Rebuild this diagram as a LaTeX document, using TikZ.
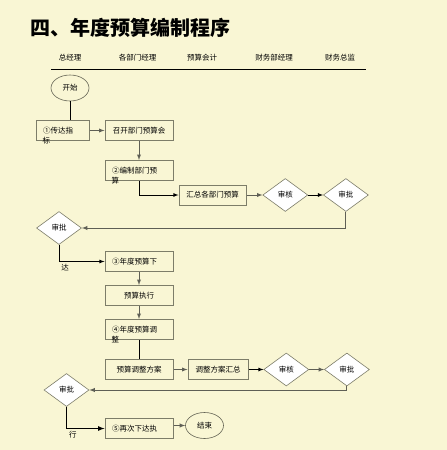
\documentclass[tikz,border=0pt]{standalone}
\usepackage{fontspec}
\setmainfont{Noto Sans CJK SC}
\usetikzlibrary{shapes.geometric, positioning, arrows}
\definecolor{paper}{RGB}{249,246,212}
\definecolor{rim}{RGB}{125,125,105}
\definecolor{wire}{RGB}{95,95,85}

\begin{document}
\begin{tikzpicture}[x=1pt, y=-1pt, >=latex, node distance=15pt,
	box/.style={draw=rim, line width=1pt, fill=paper, minimum width=68pt, minimum height=20pt,
		inner xsep=7pt, inner ysep=0pt, font=\fontsize{7.5}{9}\selectfont},
	leftbox/.style={box, minimum width=0pt, text width=#1, align=left},
	check/.style={diamond, draw=rim, fill=white, line width=0.6pt, minimum width=45pt,
		minimum height=33pt, inner sep=0pt, font=\fontsize{7.5}{9}\selectfont},
	term/.style={ellipse, draw=rim!80!black, line width=0.6pt, fill=paper, minimum width=38pt,
		minimum height=26pt, inner sep=0pt, font=\fontsize{7.5}{9}\selectfont},
	spill/.style={anchor=west, xshift=7pt, inner sep=0pt, font=\fontsize{7.5}{9}\selectfont},
	colhead/.style={font=\fontsize{7.5}{9}\selectfont},
	flow/.style={->, draw=wire, line width=0.9pt},
	flowdark/.style={->, draw=black, line width=0.8pt}]
	\fill[paper] (0,0) rectangle (447,450);
	\useasboundingbox (0,0) rectangle (447,450);
	\node[anchor=west, inner sep=0pt, font=\bfseries\fontsize{20}{24}\selectfont] (title) at (30,28) {四、年度预算编制程序};
	\node[colhead] (h1) at (70,58) {总经理};
	\node[colhead] (h2) at (137.5,58) {各部门经理};
	\node[colhead] (h3) at (202,58) {预算会计};
	\node[colhead] (h4) at (274,58) {财务部经理};
	\node[colhead] (h5) at (340,58) {财务总监};
	\draw[line width=0.8pt] (51,69.3) -- (366,69.3);
	\node[term] (start) at (70,88) {开始};
	\node[leftbox=39pt, label={[spill]south west:标}] (b1) at (62.5,130.5) {①传达指};
	\node[box, right=15pt of b1] (b2) {召开部门预算会};
	\node[leftbox=54pt, below=19pt of b2, label={[spill]south west:算}] (b3) {②编制部门预};
	\node[box, minimum width=67pt] (b4) at (212.5,195) {汇总各部门预算};
	\node[check, right=16pt of b4] (d1) {审核};
	\node[check, right=15pt of d1] (d2) {审批};
	\node[check] (d0) at (59,228) {审批};
	\node[leftbox=54pt, below=70pt of b3] (b5) {③年度预算下};
	\node[box, below=13pt of b5] (b6) {预算执行};
	\node[leftbox=54pt, below=13pt of b6, label={[spill]south west:整}] (b7) {④年度预算调};
	\node[box, below=19pt of b7] (b8) {预算调整方案};
	\node[box, minimum width=60pt, right=14pt of b8] (b9) {调整方案汇总};
	\node[check, right=15pt of b9] (d3) {审核};
	\node[check, right=15pt of d3] (d4) {审批};
	\node[check] (d5) at (66.5,390) {审批};
	\node[leftbox=54pt, below=38pt of b8] (b10) {⑤再次下达执};
	\node[term] (stop) at (204.5,425.5) {结束};
	\draw[flowdark, -] (start) -- (start |- b1.north);
	\draw[flow] (b1) -- (b2);
	\draw[flow] (b2) -- (b3);
	\draw[flowdark] (b3) |- (b4);
	\draw[flow] (b4) -- (d1);
	\draw[flowdark] (d1) -- (d2);
	\draw[flow] (d2) |- (d0);
	\draw[flowdark] (d0) |- node[below right, inner sep=2pt, font=\fontsize{7.5}{9}\selectfont] {达} (b5);
	\draw[flow] (b5) -- (b6);
	\draw[flow] (b6) -- (b7);
	\draw[flowdark, -] (b7) -- (b8);
	\draw[flow] (b8) -- (b9);
	\draw[flowdark] (b9) -- (d3);
	\draw[flow] (d3) -- (d4);
	\draw[flow] (d4) |- (d5);
	\draw[flowdark, line width=1.2pt] (d5) |- node[below right, inner sep=2pt, font=\fontsize{7.5}{9}\selectfont] {行} (b10);
	\draw[flow] (b10.east |- stop) -- (stop);
\end{tikzpicture}
\end{document}
